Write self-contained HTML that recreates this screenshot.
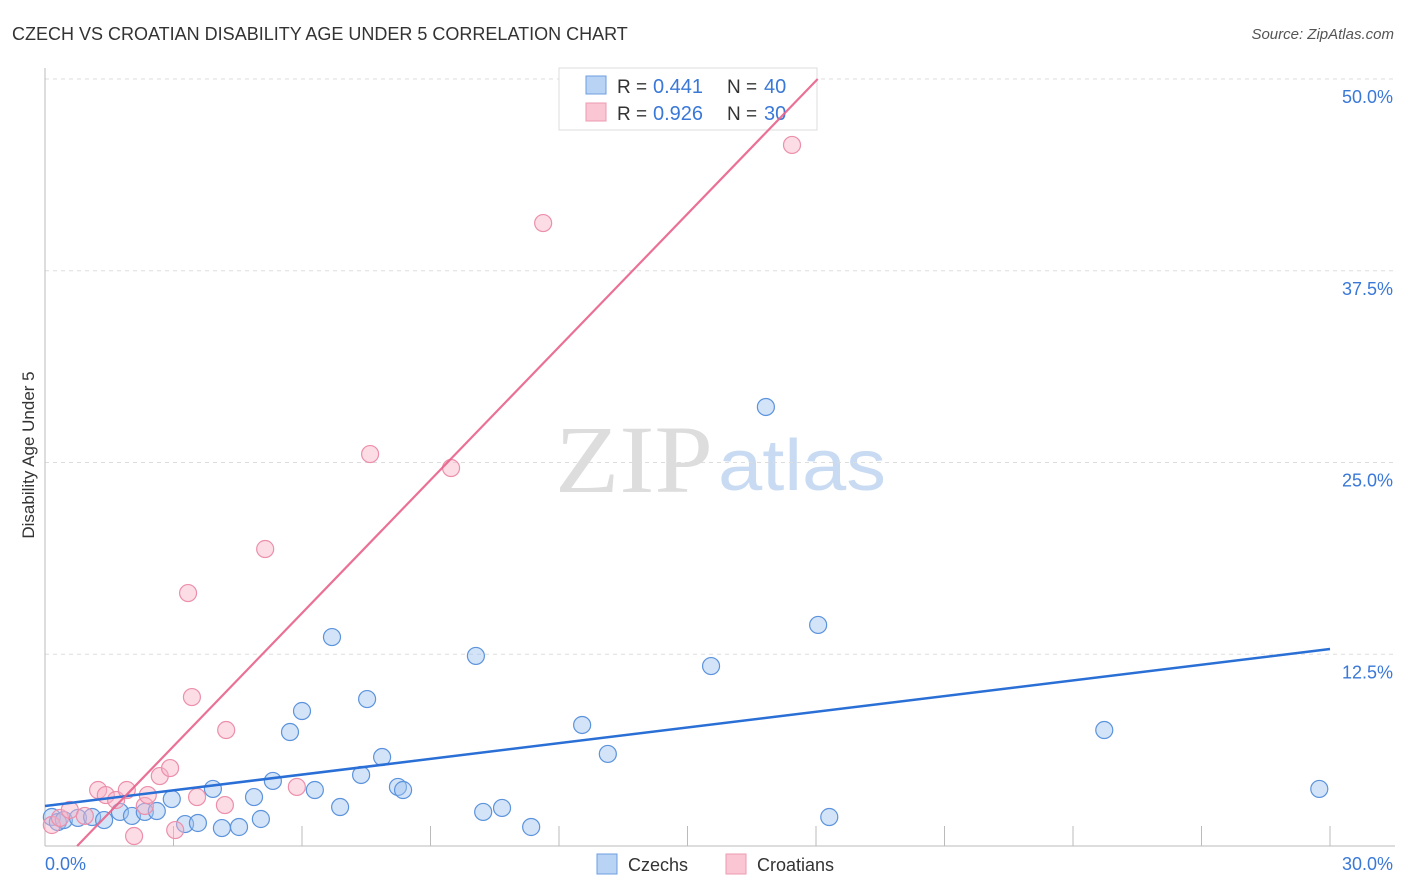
<!DOCTYPE html>
<html><head><meta charset="utf-8"><style>
body{margin:0;background:#fff;font-family:"Liberation Sans",sans-serif;}
svg{display:block}
</style></head><body>
<svg width="1406" height="892" id="chart">
<text x="12" y="40" font-size="18" fill="#333">CZECH VS CROATIAN DISABILITY AGE UNDER 5 CORRELATION CHART</text>
<text x="1394" y="39" font-size="15" fill="#555" font-style="italic" text-anchor="end">Source: ZipAtlas.com</text>
<text x="0" y="0" transform="translate(34,455) rotate(-90)" font-size="17" fill="#333" text-anchor="middle">Disability Age Under 5</text>
<text x="555" y="492" font-size="96" fill="#ddd" font-family="Liberation Serif,serif" textLength="158" lengthAdjust="spacingAndGlyphs">ZIP</text>
<text x="718" y="490" font-size="72" fill="#c9dbf2" textLength="168" lengthAdjust="spacingAndGlyphs">atlas</text>
<g id="grid"></g>
<g>
<rect x="559" y="68" width="258" height="62" fill="#fff" stroke="#ddd"/>
<rect x="586" y="76" width="20" height="18" fill="#b9d3f5" stroke="#6d9fe0"/>
<rect x="586" y="103" width="20" height="18" fill="#fac6d4" stroke="#ee9ab2"/>
<text x="617" y="93" font-size="19" fill="#333">R =</text><text x="653" y="93" font-size="20" fill="#3a78d8">0.441</text>
<text x="727" y="93" font-size="19" fill="#333">N =</text><text x="764" y="93" font-size="20" fill="#3a78d8">40</text>
<text x="617" y="120" font-size="19" fill="#333">R =</text><text x="653" y="120" font-size="20" fill="#3a78d8">0.926</text>
<text x="727" y="120" font-size="19" fill="#333">N =</text><text x="764" y="120" font-size="20" fill="#3a78d8">30</text>
</g>
<g id="marks"></g>
<g>
<rect x="597" y="854" width="20" height="20" fill="#b9d3f5" stroke="#6d9fe0"/>
<text x="628" y="871" font-size="18" fill="#333">Czechs</text>
<rect x="726" y="854" width="20" height="20" fill="#fac6d4" stroke="#ee9ab2"/>
<text x="757" y="871" font-size="18" fill="#333">Croatians</text>
</g>
</svg>
<script>
const yTicks=[12.5,25,37.5,50];
const yTickLabels=["12.5%","25.0%","37.5%","50.0%"];
const xTicks=[0,3,6,9,12,15,18,21,24,27,30];
const czechX=[0.16,0.30,0.44,0.77,1.10,1.38,1.75,2.03,2.33,2.61,2.96,3.27,3.57,3.92,4.13,4.53,4.88,5.04,5.32,5.72,6.00,6.30,6.70,6.89,7.38,7.52,7.87,8.24,8.36,10.06,10.23,10.67,11.35,12.54,13.14,15.55,16.83,18.05,18.31,24.73,29.75];
const czechY=[1.89,1.56,1.69,1.83,1.89,1.69,2.22,1.96,2.22,2.28,3.06,1.43,1.50,3.72,1.17,1.24,3.19,1.76,4.24,7.43,8.80,3.65,13.62,2.54,4.63,9.58,5.80,3.85,3.65,12.39,2.22,2.48,1.24,7.89,6.00,11.73,28.62,14.41,1.89,7.56,3.72];
const croX=[0.16,0.35,0.58,0.93,1.24,1.42,1.66,1.91,2.08,2.33,2.40,2.68,2.92,3.04,3.34,3.43,3.55,4.20,4.23,5.14,5.88,7.59,9.48,11.63,17.44];
const croY=[1.37,1.83,2.35,1.96,3.65,3.32,3.00,3.65,0.65,2.61,3.32,4.56,5.08,1.04,16.49,9.71,3.19,2.67,7.56,19.36,3.85,25.55,24.64,40.61,45.70];
const czechLine=[2.61,12.84];
const croLine=[-2.17,2.892];
const NS="http://www.w3.org/2000/svg";
const sx=v=>45+v/30*1285, sy=v=>846-v/50*767;
function mk(t,a,p){const e=document.createElementNS(NS,t);for(const k in a)e.setAttribute(k,a[k]);p.appendChild(e);return e;}
const grid=document.getElementById('grid'),marks=document.getElementById('marks');
yTicks.forEach((v,i)=>{
 const l=mk('line',{x1:45,x2:1395,y1:sy(v),y2:sy(v),stroke:'#ddd','stroke-dasharray':'4,4'},grid);
 
 
 const t=mk('text',{x:1393,y:sy(v)+24,'font-size':18,fill:'#3a78d8','text-anchor':'end'},grid);
 t.textContent=yTickLabels[i];
 
 
});
mk('line',{x1:45,x2:45,y1:68,y2:846,stroke:'#bbb'},grid);
mk('line',{x1:45,x2:1395,y1:846,y2:846,stroke:'#bbb'},grid);
xTicks.forEach(v=>{const l=mk('line',{x1:sx(v),x2:sx(v),y1:846,y2:826,stroke:'#bbb'},grid);
 
 });
let t=mk('text',{x:45,y:870,'font-size':18,fill:'#3a78d8'},grid);t.textContent='0.0%';


t=mk('text',{x:1393,y:870,'font-size':18,fill:'#3a78d8','text-anchor':'end'},grid);t.textContent='30.0%';


czechX.forEach((x,i)=>{const c=mk('circle',{cx:sx(x),cy:sy(czechY[i]),r:8.5,fill:'rgba(160,195,240,0.45)',stroke:'#5b93dc','stroke-width':1.2},marks);
 
 });
croX.forEach((x,i)=>{const c=mk('circle',{cx:sx(x),cy:sy(croY[i]),r:8.5,fill:'rgba(248,180,200,0.45)',stroke:'#ec8fab','stroke-width':1.2},marks);
 
 });
let bl=mk('line',{x1:sx(0),y1:sy(czechLine[0]),x2:sx(30),y2:sy(czechLine[1]),stroke:'#2a6fd6','stroke-width':2.5},marks);


const x0=-croLine[0]/croLine[1], x1=(50-croLine[0])/croLine[1];
let pl=mk('line',{x1:sx(x0),y1:sy(0),x2:sx(x1),y2:sy(50),stroke:'#e8628a','stroke-width':2.2,'stroke-opacity':0.9},marks);


</script>
</body></html>
